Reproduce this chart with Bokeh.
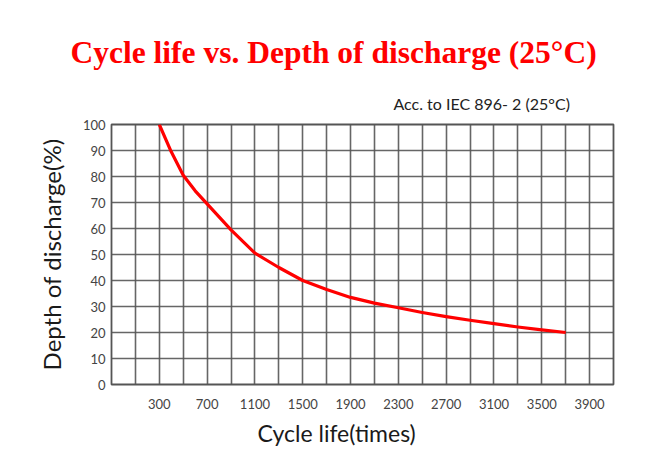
from bokeh.plotting import figure
from bokeh.models import Range1d, FixedTicker, Title
from bokeh.embed import file_html
from bokeh.resources import INLINE

# ---- data ----
cycles = [300, 400, 500, 600, 700, 900, 1100, 1300, 1500, 1700, 1900, 2100,
          2300, 2500, 2700, 2900, 3100, 3300, 3500, 3700]
dod = [100, 89.5, 80.5, 74.5, 69.5, 59.5, 50.5, 45, 40, 36.5, 33.5, 31.3,
       29.5, 27.7, 26.1, 24.7, 23.4, 22.1, 21, 20]
x_tick_labels = [300, 700, 1100, 1500, 1900, 2300, 2700, 3100, 3500, 3900]
x_grid = list(range(-100, 4101, 200))
y_ticks = list(range(0, 101, 10))

title_text = "Cycle life vs. Depth of discharge (25°C)"
note_text = "Acc. to IEC 896- 2 (25°C)"
x_label = "Cycle life(times)"
y_label = "Depth of discharge(%)"

GRID = "#555555"

p = figure(width=653, height=451, output_backend="svg", toolbar_location=None,
           x_range=Range1d(-100, 4100), y_range=Range1d(0, 100),
           min_border_left=111, min_border_right=40,
           min_border_top=124, min_border_bottom=66, title=None)

p.line(cycles, dod, line_color="#ff0000", line_width=3.2, line_join="round")

# axes
for ax in (p.xaxis, p.yaxis):
    ax.axis_line_color = None
    ax.major_tick_line_color = None
    ax.minor_tick_line_color = None
    ax.major_label_text_font = "Lato"
    ax.major_label_text_font_size = "13px"
    ax.major_label_text_color = "#444444"
p.xaxis.ticker = FixedTicker(ticks=x_tick_labels)
p.yaxis.ticker = FixedTicker(ticks=y_ticks)
p.xaxis.major_label_standoff = 8
p.yaxis.major_label_standoff = 0
p.yaxis.axis_label = y_label
p.yaxis.axis_label_text_font = "Lato"
p.yaxis.axis_label_text_font_size = "24px"
p.yaxis.axis_label_text_font_style = "normal"
p.yaxis.axis_label_text_color = "#1a1a1a"
p.yaxis.axis_label_standoff = 14

# grid
p.xgrid.ticker = FixedTicker(ticks=x_grid)
p.ygrid.ticker = FixedTicker(ticks=y_ticks)
for g in (p.xgrid, p.ygrid):
    g.grid_line_color = GRID
    g.grid_line_width = 1.6
    g.grid_line_alpha = 0.9
p.outline_line_color = GRID
p.outline_line_width = 1.8
p.background_fill_color = "white"
p.border_fill_color = "white"

# titles
p.add_layout(Title(text=note_text, align="left", offset=282, standoff=24,
                   text_font="Lato", text_font_size="16px",
                   text_font_style="normal", text_color="#222222"), "above")
p.add_layout(Title(text=title_text, align="left", offset=-41, standoff=20,
                   text_font="Liberation Serif", text_font_size="31.5px",
                   text_font_style="bold", text_color="#ff0000"), "above")
p.add_layout(Title(text=x_label, align="left", offset=146,
                   text_font="Lato", text_font_size="23px",
                   text_font_style="normal", text_color="#1a1a1a"), "below")

open("out.html", "w").write(file_html(p, INLINE))
